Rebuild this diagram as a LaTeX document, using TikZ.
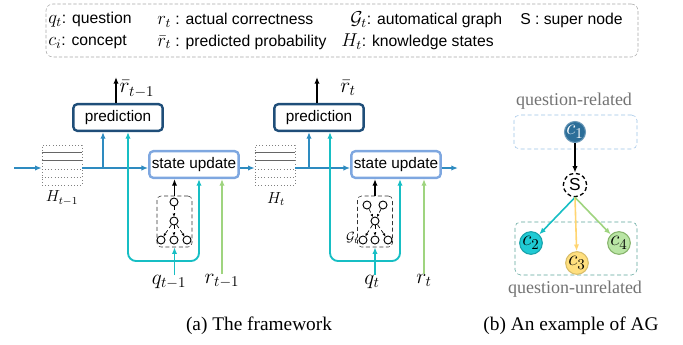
\documentclass[tikz,border=0pt]{standalone}
\usepackage{fix-cm}
\usepackage{amsmath}
\usepackage{fontspec}
\setmainfont{Liberation Serif}
\setsansfont{Liberation Sans}
\usetikzlibrary{arrows.meta}
\usetikzlibrary{positioning}

\definecolor{darkblue}{HTML}{1F4E79}
\definecolor{lightblue}{HTML}{7EA7E0}
\definecolor{midblue}{HTML}{2E8BC0}
\definecolor{tealcyan}{HTML}{17BEC4}
\definecolor{lightgreen}{HTML}{9FD47F}
\definecolor{cone}{HTML}{2C6E99}
\definecolor{ctwo}{HTML}{1FCAD4}
\definecolor{cthree}{HTML}{FFDF7E}
\definecolor{cfour}{HTML}{B9E5A4}
\definecolor{relblue}{HTML}{9DC3E6}
\definecolor{unrelgreen}{HTML}{5BA39A}

\begin{document}
\begin{tikzpicture}[x=0.75pt,y=-0.75pt,>={Latex[length=5pt,width=4pt]},
  every node/.style={inner sep=0pt},
  leg/.style={anchor=west,font=\sffamily\fontsize{11.8}{13}\selectfont},
  predbox/.style={draw=darkblue,line width=1.8pt,rounded corners=3pt,minimum width=67pt,minimum height=20pt,font=\sffamily\fontsize{11.5}{12}\selectfont},
  subox/.style={draw=lightblue,line width=1.8pt,rounded corners=3pt,minimum width=67pt,minimum height=20pt,font=\sffamily\fontsize{11.5}{12}\selectfont},
  hbox/.style={draw=gray,dotted,minimum size=30pt},
  gbox/.style={draw=black!80,densely dashed,rounded corners=3pt,minimum width=26.25pt,minimum height=38.25pt},
  gnode/.style={draw,circle,minimum size=6pt,line width=0.7pt},
  gedge/.style={densely dashed,line width=0.5pt,-{Latex[length=2.2pt,width=2.2pt]}},
  mlab/.style={font=\fontsize{16}{16}\selectfont},
  blu/.style={midblue,line width=1.1pt},
  cy/.style={tealcyan,line width=1.4pt},
  grn/.style={lightgreen,line width=1.4pt},
  cnode/.style={circle,minimum size=17pt,line width=0.8pt,font=\fontsize{16}{16}\selectfont},
  glab/.style={gray!90!black,font=\fontsize{13.5}{14}\selectfont},
  captext/.style={font=\fontsize{14.5}{16}\selectfont}]
  \useasboundingbox (0,0) rectangle (683,344);

  % legend
  \node[draw=gray!70,dash pattern=on 2.5pt off 1.5pt,rounded corners=5pt,minimum width=444pt,minimum height=39.75pt] (legend) at (342,30.5) {};
  \node[leg] (l1) at (48,20) {{\fontsize{14}{14}\selectfont$q_t$}: question};
  \node[leg] (l2) at (157,20) {{\fontsize{14}{14}\selectfont$r_t$} : actual correctness};
  \node[leg] (l3) at (350,20) {{\fontsize{14}{14}\selectfont$\mathcal{G}_t$}: automatical graph};
  \node[leg] (l4) at (520,20) {S : super node};
  \node[leg] (l5) at (48,42) {{\fontsize{14}{14}\selectfont$c_i$}: concept};
  \node[leg] (l6) at (157,42) {{\fontsize{14}{14}\selectfont$\bar{r}_t$} : predicted probability};
  \node[leg] (l7) at (341,42) {{\fontsize{14}{14}\selectfont$H_t$}: knowledge states};

  % (a) the framework
  \node[predbox] (pred1) at (118,117.5) {prediction};
  \node[predbox] (pred2) at (319,117.5) {prediction};
  \node[subox] (su1) at (194,164.5) {state update};
  \node[subox] (su2) at (396,164.5) {state update};
  \node[hbox] (H1) at (62,165) {};
  \node[hbox] (H2) at (275,165) {};
  \draw[black!60,line width=0.5pt] (H1.north west) ++(0,8) -- ++(40,0) ++(-40,8) -- ++(40,0);
  \draw[gray,dotted] (H1.west) ++(0,4) -- ++(40,0) ++(-40,8) -- ++(40,0);
  \draw[black!60,line width=0.5pt] (H2.north west) ++(0,8) -- ++(40,0) ++(-40,8) -- ++(40,0);
  \draw[gray,dotted] (H2.west) ++(0,4) -- ++(40,0) ++(-40,8) -- ++(40,0);
  \node[font=\fontsize{12}{12}\selectfont] (h1lab) at (62,198) {$H_{t-1}$};
  \node[font=\fontsize{12}{12}\selectfont] (h2lab) at (276,199) {$H_t$};

  \coordinate (o1) at (116,77);
  \coordinate (o2) at (317,77);
  \draw[->,line width=1.1pt] (o1 |- pred1.north) -- (o1);
  \draw[->,line width=1.1pt] (o2 |- pred2.north) -- (o2);
  \node[mlab] (rb1) at (137,89) {$\bar{r}_{t-1}$};
  \node[mlab] (rb2) at (348,88) {$\bar{r}_t$};

  \coordinate (in) at (14,168);
  \coordinate (b1) at (103,168);
  \coordinate (b2) at (309,168);
  \coordinate (out) at (458,168);
  \draw[blu,->] (in) -- (in -| H1.west);
  \draw[blu,->] (H1.east |- in) -- (su1.west |- in);
  \draw[blu,->] (b1) -- (b1 |- pred1.south);
  \draw[blu,->] (su1.east |- in) -- (H2.west |- in);
  \draw[blu,->] (H2.east |- in) -- (su2.west |- in);
  \draw[blu,->] (b2) -- (b2 |- pred2.south);
  \draw[blu,->] (su2.east |- out) -- (out);

  % graphs
  \node[gbox] (g1) at (174.5,221.5) {};
  \node[gnode] (g1a) at (174,202) {};
  \node[gnode] (g1b) at (174,221) {};
  \node[gnode] (g1c) at (161,240) {};
  \node[gnode] (g1d) at (174,240) {};
  \node[gnode] (g1e) at (187,240) {};
  \draw[gedge] (g1a) -- (g1b);
  \draw[gedge] (g1b) -- (g1c);
  \draw[gedge] (g1b) -- (g1d);
  \draw[gedge] (g1b) -- (g1e);

  \node[gbox] (g2) at (375,221.5) {};
  \node[gnode] (g2a) at (367,205) {};
  \node[gnode] (g2f) at (383,205) {};
  \node[gnode] (g2b) at (375,221) {};
  \node[gnode] (g2c) at (363,240) {};
  \node[gnode] (g2d) at (375,240) {};
  \node[gnode] (g2e) at (388,240) {};
  \draw[gedge] (g2a) -- (g2b);
  \draw[gedge] (g2f) -- (g2b);
  \draw[gedge] (g2b) -- (g2c);
  \draw[gedge] (g2b) -- (g2d);
  \draw[gedge] (g2b) -- (g2e);
  \node[anchor=east,font=\fontsize{10}{10}\selectfont] (gl) at (359,238) {$\mathcal{G}_t$};

  \draw[->,line width=1.1pt] (g1.north) -- (g1.north |- su1.south);
  \draw[->,line width=1.1pt] (g2.north) -- (g2.north |- su2.south);

  % inputs
  \node[mlab,anchor=north] (q1) at (169,275) {$q_{t-1}$};
  \node[mlab,anchor=north] (r1) at (222,274) {$r_{t-1}$};
  \node[mlab,anchor=north] (q2) at (372,275) {$q_t$};
  \node[mlab,anchor=north] (r2) at (424,274) {$r_t$};

  \coordinate (j1) at (175,261);
  \coordinate (j2) at (376,261);
  \draw[cy,->,rounded corners=6] (j1) -| (128,0 |- pred1.south);
  \draw[cy,->,rounded corners=6] (j1) -| (199,0 |- su1.south);
  \draw[cy,->] (g1.south |- q1.north) -- (g1.south);
  \draw[cy,->,rounded corners=6] (j2) -| (330,0 |- pred2.south);
  \draw[cy,->,rounded corners=6] (j2) -| (400,0 |- su2.south);
  \draw[cy,->] (g2.south |- q2.north) -- (g2.south);
  \draw[grn,->] (r1.north) -- (r1.north |- su1.south);
  \draw[grn,->] (r2.north) -- (r2.north |- su2.south);

  \node[captext] (capa) at (259,326) {(a) The framework};

  % (b) an example of AG
  \node[glab] (qrel) at (574,101) {question-related};
  \node[draw=relblue,densely dashed,rounded corners=4pt,minimum width=92.25pt,minimum height=25.5pt] (relbox) at (575.5,132) {};
  \node[draw=unrelgreen,densely dashed,rounded corners=4pt,minimum width=91.5pt,minimum height=39.75pt] (unrelbox) at (576,248.5) {};
  \node[cnode,fill=cone,draw=cone!70!white,text=white,minimum size=15.75pt] (c1) at (575,132) {$c_1$};
  \node[circle,draw,line width=1pt,dash pattern=on 3pt off 2pt,minimum size=17.5pt,font=\sffamily\fontsize{13}{13}\selectfont] (S) at (575,185) {S};
  \node[cnode,fill=ctwo,draw=ctwo!80!black] (c2) at (531,243) {$c_2$};
  \node[cnode,fill=cthree,draw=cthree!85!black] (c3) at (577,263) {$c_3$};
  \node[cnode,fill=cfour,draw=lightgreen!85!black] (c4) at (619,243) {$c_4$};
  \node[glab] (qunrel) at (575,289) {question-unrelated};
  \draw[->,line width=1.3pt] (c1) -- (S);
  \draw[->,tealcyan,line width=1.2pt] (S.south) -- (c2);
  \draw[->,cthree!90!orange,line width=1.2pt] (S.south) -- (c3);
  \draw[->,lightgreen,line width=1.2pt] (S.south) -- (c4);

  \node[captext] (capb) at (571,326) {(b) An example of AG};
\end{tikzpicture}
\end{document}
